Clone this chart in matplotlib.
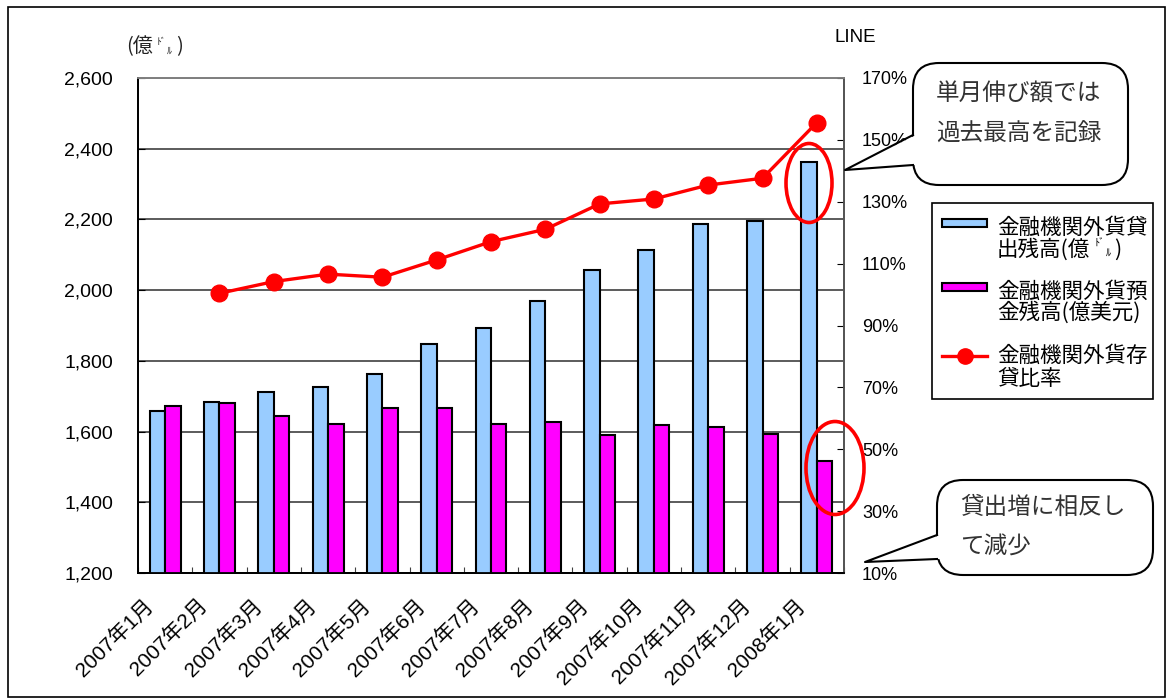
import matplotlib
matplotlib.use('Agg')
import matplotlib.pyplot as plt
import numpy as np
from matplotlib.patches import FancyBboxPatch, Polygon, Rectangle, Ellipse
from matplotlib.lines import Line2D
from matplotlib.transforms import Affine2D, ScaledTranslation
from matplotlib.ticker import FuncFormatter

plt.rcParams['font.family'] = ['Liberation Sans', 'Noto Sans CJK JP']

months = ['2007年1月', '2007年2月', '2007年3月', '2007年4月', '2007年5月', '2007年6月',
          '2007年7月', '2007年8月', '2007年9月', '2007年10月', '2007年11月', '2007年12月',
          '2008年1月']
# 金融機関外貨貸出残高 (億ドル)
loans = [1658, 1685, 1712, 1726, 1762, 1848, 1892, 1970, 2057, 2114, 2187, 2196, 2363]
# 金融機関外貨預金残高 (億美元)
deposits = [1672, 1681, 1644, 1622, 1667, 1667, 1621, 1626, 1590, 1618, 1613, 1594, 1517]
# 存貸比率 (%), no value for the first month
ratio = [np.nan, 100.4, 104.2, 106.6, 105.6, 111.2, 117.1, 121.1, 129.3, 130.9, 135.4, 137.6, 155.6]

W, H = 1168, 700
fig = plt.figure(figsize=(W / 100, H / 100), dpi=100)
# pixel coordinates, origin at top-left
tr = Affine2D().scale(1 / W, -1 / H).translate(0, 1) + fig.transFigure

L, R, T, B = 138, 844, 78, 573
ax = fig.add_axes([L / W, 1 - B / H, (R - L) / W, (B - T) / H])

x = np.arange(len(months))
w = 0.285
ax.bar(x - w / 2, loans, w, color='#99CCFF', edgecolor='black', linewidth=1.5, zorder=3)
ax.bar(x + w / 2, deposits, w, color='#FF00FF', edgecolor='black', linewidth=1.5, zorder=3)
ax.set_xlim(-0.5, len(months) - 0.5)
ax.set_ylim(1200, 2600)
ax.set_yticks(range(1200, 2601, 200))
ax.yaxis.set_major_formatter(FuncFormatter(lambda v, p: f'{int(v):,}'))
ax.set_axisbelow(True)
ax.grid(axis='y', color='#404040', linewidth=1.2)

ax.set_xticks(np.arange(-0.5, len(months), 1))
ax.set_xticklabels([])
ax.set_xticks(x, minor=True)
ax.set_xticklabels(months, minor=True, rotation=45, ha='right', rotation_mode='anchor')
ax.tick_params(axis='x', which='major', direction='in', length=4, color='#404040')
ax.tick_params(axis='x', which='minor', length=0, pad=16, labelsize=15)
ax.tick_params(axis='y', direction='in', length=5, pad=18, labelsize=14)
for lbl in ax.get_xticklabels(minor=True):
    lbl.set_transform(lbl.get_transform() + ScaledTranslation(-0.22, 0, fig.dpi_scale_trans))

ax2 = ax.twinx()
ax2.plot(x, ratio, color='#FF0000', linewidth=2.4, marker='o', markersize=12, zorder=4)
ax2.set_ylim(10, 170)
ax2.set_yticks(range(10, 171, 20))
ax2.yaxis.set_major_formatter(FuncFormatter(lambda v, p: f'{v:.0f}%'))
ax2.tick_params(axis='y', direction='in', length=5, pad=13, labelsize=13)

for a in (ax, ax2):
    a.spines['left'].set_color('black')
    a.spines['bottom'].set_color('black')
    a.spines['top'].set_color('#808080')
    a.spines['right'].set_color('#555555')
    for s in a.spines.values():
        s.set_linewidth(1.3)

# outer frame
fig.add_artist(Rectangle((8, 7), 1157, 690, transform=tr, fill=False, ec='black', lw=1.2))

# unit labels
fig.text(126, 47, '(億', transform=tr, fontsize=14.5, va='center', color='#222222',
         family='Noto Sans CJK JP')
fig.text(157, 42, 'ﾄﾞ', transform=tr, fontsize=7, va='center', color='#222222',
         family='Noto Sans CJK JP')
fig.text(167, 51, 'ﾙ', transform=tr, fontsize=7, va='center', color='#222222',
         family='Noto Sans CJK JP')
fig.text(176, 47, ')', transform=tr, fontsize=14.5, va='center', color='#222222',
         family='Noto Sans CJK JP')
fig.text(835, 37, 'LINE', transform=tr, fontsize=13.5, va='center')


def callout(x0, y0, x1, y1, tip, ya, yb, lines, tx, tys):
    fig.add_artist(FancyBboxPatch((x0, y0), x1 - x0, y1 - y0,
                                  boxstyle='round,pad=0,rounding_size=26',
                                  transform=tr, fc='white', ec='black', lw=1.5))
    fig.add_artist(Polygon([(x0 + 3, ya), tip, (x0 + 3, yb)], closed=True,
                           transform=tr, fc='white', ec='none'))
    fig.add_artist(Line2D([x0, tip[0], x0], [ya, tip[1], yb], transform=tr,
                          color='black', lw=1.5))
    for s, ty in zip(lines, tys):
        fig.text(tx, ty, s, transform=tr, fontsize=17, va='center', color='#333333',
                 family='Noto Sans CJK JP')


callout(913, 63, 1128, 185, (845, 170), 135, 165,
        ['単月伸び額では', '過去最高を記録'], 936, [94, 134])
callout(937, 480, 1153, 575, (865, 562), 535, 559,
        ['貸出増に相反し', 'て減少'], 960, [507, 547])

# highlight rings
fig.add_artist(Ellipse((809, 183), 46, 79, transform=tr, fill=False, ec='#FF0000', lw=2.6))
fig.add_artist(Ellipse((835, 468), 58, 93, transform=tr, fill=False, ec='#FF0000', lw=2.6))

# legend
fig.add_artist(Rectangle((932, 203), 221, 196, transform=tr, fc='white', ec='black', lw=1.2))
fig.add_artist(Rectangle((942, 219), 45, 8, transform=tr, fc='#99CCFF', ec='black', lw=1.5))
fig.add_artist(Rectangle((942, 283), 45, 8, transform=tr, fc='#FF00FF', ec='black', lw=1.5))
fig.add_artist(Line2D([942, 987], [356, 356], transform=tr, color='#FF0000', lw=2.4))
fig.add_artist(Line2D([965], [356], transform=tr, color='#FF0000', marker='o', markersize=11))
lkw = dict(transform=tr, fontsize=15.5, va='center', family='Noto Sans CJK JP')
fig.text(997, 228, '金融機関外貨貸', **lkw)
fig.text(997, 250, '出残高(億', **lkw)
fig.text(1095, 244, 'ﾄﾞ', transform=tr, fontsize=7.5, va='center', family='Noto Sans CJK JP')
fig.text(1106, 253, 'ﾙ', transform=tr, fontsize=7.5, va='center', family='Noto Sans CJK JP')
fig.text(1114, 250, ')', **lkw)
fig.text(997, 292, '金融機関外貨預', **lkw)
fig.text(997, 313, '金残高(億美元)', **lkw)
fig.text(997, 356, '金融機関外貨存', **lkw)
fig.text(997, 379, '貸比率', **lkw)

fig.savefig('out.png', dpi=100)
